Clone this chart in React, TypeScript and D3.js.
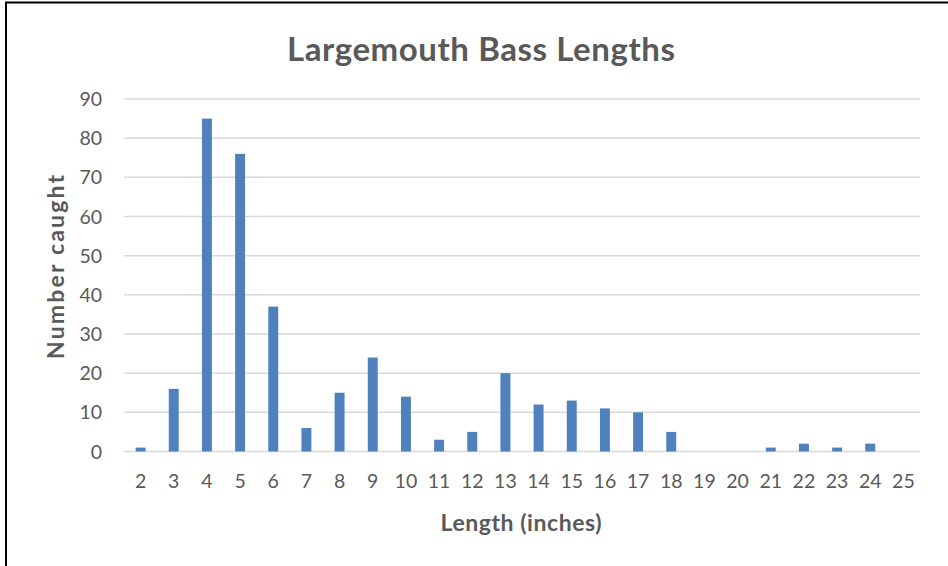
import React from "react";
import * as d3 from "d3";

const categories = ["2","3","4","5","6","7","8","9","10","11","12","13","14","15","16","17","18","19","20","21","22","23","24","25"];
const counts = [1,16,85,76,37,6,15,24,14,3,5,20,12,13,11,10,5,0,0,1,2,1,2,0];
const yTicks = [0,10,20,30,40,50,60,70,80,90];
const title = "Largemouth Bass Lengths";
const xTitle = "Length (inches)";
const yTitle = "Number caught";

const W = 948, H = 566;
const FONT = "Lato, 'Open Sans', sans-serif";
const TEXT = "#595959";

export default function App() {
  const x = d3.scaleBand<string>().domain(categories).range([124, 920]).paddingInner(0.7).paddingOuter(0.35);
  const y = d3.scaleLinear().domain([0, 90]).range([451.5, 99]);
  return (
    <svg width={W} height={H} style={{ position: "absolute", left: 0, top: 0, background: "#fff" }}>
      <rect x={0} y={0} width={W} height={H} fill="#fff" />
      <rect x={6} y={2.5} width={980} height={700} fill="none" stroke="#000" strokeWidth={2} />
      <text x={481} y={61} textAnchor="middle" fontFamily={FONT} fontWeight="bold" fontSize={33} fill={TEXT} textLength={388}>{title}</text>
      {yTicks.map(t => (
        <g key={t}>
          <line x1={124} x2={920} y1={y(t)} y2={y(t)} stroke="#D9D9D9" strokeWidth={1.5} />
          <text x={102} y={y(t)} dy="0.36em" textAnchor="end" fontFamily={FONT} fontSize={19.5} fill={TEXT}>{t}</text>
        </g>
      ))}
      {categories.map((c, i) => (
        <g key={c}>
          <rect x={x(c)!} width={x.bandwidth()} y={y(counts[i])} height={y(0) - y(counts[i])} fill="#4F81BD" />
          <text x={x(c)! + x.bandwidth() / 2} y={488} textAnchor="middle" fontFamily={FONT} fontSize={19.5} fill={TEXT}>{c}</text>
        </g>
      ))}
      <text x={521} y={531} textAnchor="middle" fontFamily={FONT} fontWeight="bold" fontSize={23} fill={TEXT} textLength={161}>{xTitle}</text>
      <text transform="translate(64,267) rotate(-90)" textAnchor="middle" fontFamily={FONT} fontWeight="bold" fontSize={23} fill={TEXT} textLength={184}>{yTitle}</text>
    </svg>
  );
}
